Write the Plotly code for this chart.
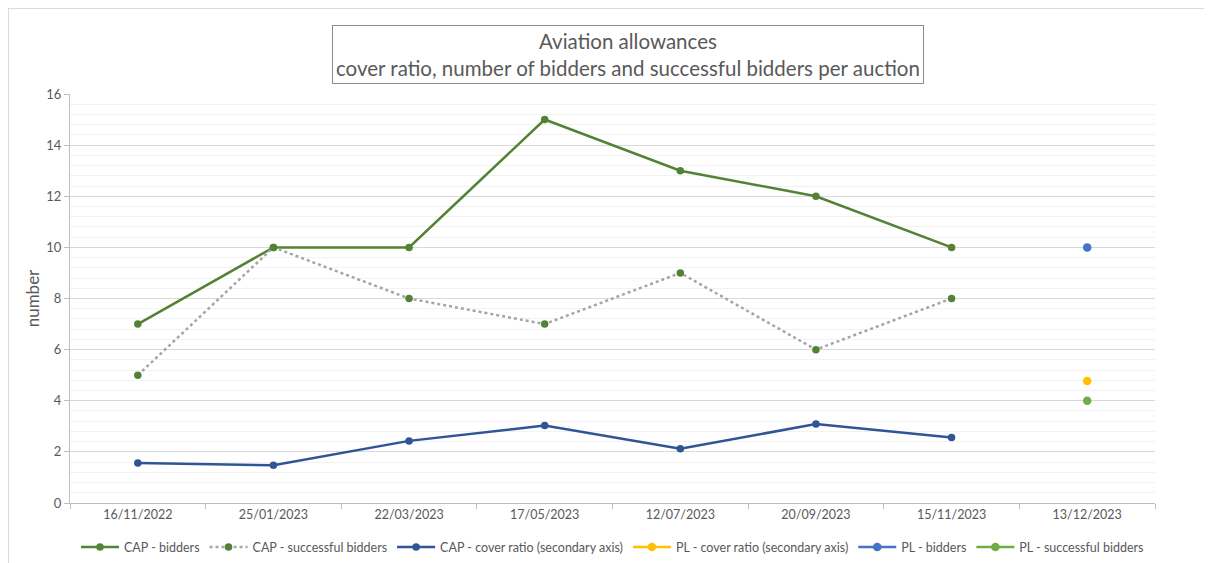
import plotly.graph_objects as go

dates = ["16/11/2022", "25/01/2023", "22/03/2023", "17/05/2023",
         "12/07/2023", "20/09/2023", "15/11/2023", "13/12/2023"]
cap_dates = dates[:7]
pl_dates = dates[7:]

cap_bidders = [7, 10, 10, 15, 13, 12, 10]
cap_successful = [5, 10, 8, 7, 9, 6, 8]
cap_cover = [1.56, 1.48, 2.43, 3.03, 2.12, 3.09, 2.56]
pl_cover = [4.77]
pl_bidders = [10]
pl_successful = [4]

FONT = "Lato"
GREY = "#595959"

fig = go.Figure()

fig.add_trace(go.Scatter(
    x=cap_dates, y=cap_bidders, name="CAP - bidders", mode="lines+markers",
    line=dict(color="#548235", width=2.5), marker=dict(color="#548235", size=7.5)))
fig.add_trace(go.Scatter(
    x=cap_dates, y=cap_successful, name="CAP - successful bidders", mode="lines+markers",
    line=dict(color="#A5A5A5", width=2.5, dash="dot"), marker=dict(color="#548235", size=7.5)))
fig.add_trace(go.Scatter(
    x=cap_dates, y=cap_cover, name="CAP - cover ratio (secondary axis)", mode="lines+markers",
    yaxis="y2",
    line=dict(color="#2F5597", width=2.5), marker=dict(color="#2F5597", size=7.5)))
fig.add_trace(go.Scatter(
    x=pl_dates, y=pl_cover, name="PL - cover ratio (secondary axis)", mode="lines+markers",
    yaxis="y2",
    line=dict(color="#FFC000", width=2.5), marker=dict(color="#FFC000", size=8.5)))
fig.add_trace(go.Scatter(
    x=pl_dates, y=pl_bidders, name="PL - bidders", mode="lines+markers",
    line=dict(color="#4472C4", width=2.5), marker=dict(color="#4472C4", size=8.5)))
fig.add_trace(go.Scatter(
    x=pl_dates, y=pl_successful, name="PL - successful bidders", mode="lines+markers",
    line=dict(color="#70AD47", width=2.5), marker=dict(color="#70AD47", size=8.5)))

L, R, T, B = 62, 57, 86, 60
W, H = 1204, 555
PW, PH = W - L - R, H - T - B

fig.update_layout(
    width=W, height=H,
    paper_bgcolor="white", plot_bgcolor="white",
    font=dict(family=FONT, color=GREY, size=12),
    margin=dict(l=L, r=R, t=T, b=B, autoexpand=False),
    xaxis=dict(
        type="category", categoryorder="array", categoryarray=dates,
        range=[-0.5, 7.5], tickson="boundaries",
        ticks="outside", ticklen=5, tickcolor="#BFBFBF",
        showline=True, linecolor="#BFBFBF", linewidth=1,
        showgrid=False, tickfont=dict(size=12.5, color=GREY),
    ),
    yaxis=dict(
        range=[0, 16], dtick=2, ticks="outside", ticklen=5, tickcolor="#BFBFBF",
        showline=True, linecolor="#BFBFBF", linewidth=1,
        gridcolor="#D9D9D9", gridwidth=1, zeroline=False,
        minor=dict(dtick=0.4, showgrid=True, gridcolor="#F2F2F2", gridwidth=1),
        title=dict(text="number", font=dict(size=17, color=GREY), standoff=2),
        tickfont=dict(size=13, color=GREY),
    ),
    yaxis2=dict(range=[0, 16], overlaying="y", visible=False),
    legend=dict(
        orientation="h", x=0.5, xanchor="center", y=-0.072, yanchor="top",
        font=dict(size=12.5, color=GREY), itemwidth=38, tracegroupgap=0,
    ),
    showlegend=True,
)

fig.add_annotation(
    text="Aviation allowances<br>cover ratio, number of bidders and successful bidders per auction",
    xref="paper", yref="paper", x=(620 - L) / PW, y=1 + (T - 76) / PH,
    xanchor="center", yanchor="bottom", showarrow=False,
    font=dict(size=20.5, color=GREY, family=FONT),
    bordercolor="#8C8C8C", borderwidth=1, borderpad=3, bgcolor="white",
)

# chart frame
fig.add_shape(type="rect", xref="paper", yref="paper",
              x0=-L / PW, x1=1.2, y0=-0.3, y1=1 + T / PH,
              line=dict(color="#D0D0D0", width=1.5), layer="below")

fig.write_html("out.html")
